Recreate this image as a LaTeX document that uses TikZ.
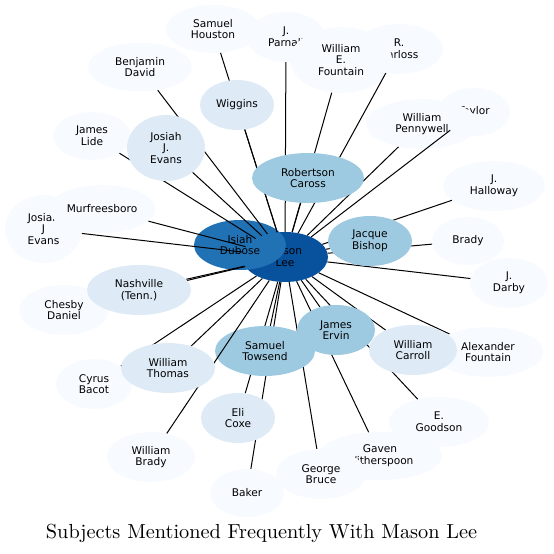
\documentclass[tikz,border=0pt]{standalone}
\usepackage{fontspec}
\newfontfamily\dejavu{DejaVu Sans}
\newfontfamily\titlefnt{lmroman10-regular.otf}
\usetikzlibrary{shapes.geometric}
\definecolor{bA}{HTML}{F7FBFF}
\definecolor{bB}{HTML}{DEEBF7}
\definecolor{bC}{HTML}{9ECAE1}
\definecolor{bD}{HTML}{2171B5}
\definecolor{bE}{HTML}{08519C}
\begin{document}
\begin{tikzpicture}[x=1pt,y=1pt,
  ent/.style={ellipse, inner sep=0pt, align=center, text=black,
    font=\dejavu\fontsize{10.6}{11.7}\selectfont},
  lk/.style={draw=black, line width=1pt},
  titlefont/.style={font=\titlefnt\fontsize{20.3}{24}\selectfont}
]
\useasboundingbox (0,0) rectangle (554,554);
% central nodes
\node[ent, fill=bE, minimum width=86pt, minimum height=50pt] (ml) at (285,297) {Mason\\Lee};
\node[ent, fill=bD, minimum width=92pt, minimum height=50pt] (idu) at (240,309) {Isiah\\Dubose};
% light nodes
\node[ent, fill=bA, minimum width=94pt, minimum height=48pt] (sh) at (213,525) {Samuel\\Houston};
\node[ent, fill=bA, minimum width=78pt, minimum height=50pt] (jp) at (286,517) {J.\\Parnall};
\node[ent, fill=bA, minimum width=88pt, minimum height=50pt] (rcl) at (399,505) {R.\\Carloss};
\node[ent, fill=bA, minimum width=102pt, minimum height=66pt] (wef) at (341,494) {William\\E.\\Fountain};
\node[ent, fill=bA, minimum width=104pt, minimum height=49pt] (bd) at (140,487) {Benjamin\\David};
\node[ent, fill=bA, minimum width=78pt, minimum height=48pt] (jl) at (92,418) {James\\Lide};
\node[ent, fill=bA, minimum width=72pt, minimum height=48pt] (tay) at (474,442) {Taylor};
\node[ent, fill=bA, minimum width=112pt, minimum height=50pt] (wp) at (422,430) {William\\Pennywell};
\node[ent, fill=bA, minimum width=102pt, minimum height=50pt] (jh) at (494,368) {J.\\Halloway};
\node[ent, fill=bA, minimum width=77pt, minimum height=68pt] (jje2) at (43.5,325) {Josiah\\J\\Evans};
\node[ent, fill=bA, minimum width=107pt, minimum height=48pt] (mur) at (102,345) {Murfreesboro};
\node[ent, fill=bA, minimum width=72pt, minimum height=48pt] (bra) at (468,313) {Brady};
\node[ent, fill=bA, minimum width=78pt, minimum height=50pt] (jd) at (509,271) {J.\\Darby};
\node[ent, fill=bA, minimum width=90pt, minimum height=50pt] (cd) at (64,244) {Chesby\\Daniel};
\node[ent, fill=bA, minimum width=110pt, minimum height=50pt] (af) at (488,202) {Alexander\\Fountain};
\node[ent, fill=bA, minimum width=76pt, minimum height=50pt] (cb) at (94,170) {Cyrus\\Bacot};
\node[ent, fill=bA, minimum width=100pt, minimum height=50pt] (eg) at (439,132) {E.\\Goodson};
\node[ent, fill=bA, minimum width=88pt, minimum height=50pt] (wb) at (151,97) {William\\Brady};
\node[ent, fill=bA, minimum width=124pt, minimum height=48pt] (gw) at (380,98) {Gaven\\Witherspoon};
\node[ent, fill=bA, minimum width=90pt, minimum height=50pt] (gb) at (321,80) {George\\Bruce};
\node[ent, fill=bA, minimum width=74pt, minimum height=48pt] (bak) at (247,61) {Baker};
% centres of the later nodes
\path (237,449) coordinate (wigc) (166,406) coordinate (jjec) (139,264) coordinate (nashc)
  (308,376) coordinate (robc) (370,313) coordinate (jbc) (265,203) coordinate (stc)
  (336,224) coordinate (jec) (413,204) coordinate (wcc) (238,136) coordinate (elic)
  (168,186) coordinate (wtc);
% edges to the nodes drawn so far
\foreach \t in {sh,jp,rcl,wef,bd,jl,tay,wp,jh,jje2,mur,bra,jd,cd,af,cb,eg,gw,gb,bak}
  \draw[lk] (ml) -- (\t);
% outlines of later nodes, for clipping their edges
\node[ent, minimum width=74pt, minimum height=50pt] (wig0) at (wigc) {};
\node[ent, minimum width=78pt, minimum height=66pt] (jje0) at (jjec) {};
\node[ent, minimum width=104pt, minimum height=50pt] (nash0) at (nashc) {};
\node[ent, minimum width=112pt, minimum height=50pt] (rob0) at (robc) {};
\node[ent, minimum width=84pt, minimum height=50pt] (jb0) at (jbc) {};
\node[ent, minimum width=100pt, minimum height=50pt] (st0) at (stc) {};
\node[ent, minimum width=78pt, minimum height=50pt] (je0) at (jec) {};
\node[ent, minimum width=88pt, minimum height=50pt] (wc0) at (wcc) {};
\node[ent, minimum width=74pt, minimum height=50pt] (eli0) at (elic) {};
\node[ent, minimum width=94pt, minimum height=50pt] (wt0) at (wtc) {};
\foreach \t in {wig0,jje0,nash0,rob0,jb0,st0,je0,wc0,eli0,wt0}
  \draw[lk] (ml) -- (\t);
% medium nodes
\node[ent, fill=bB, minimum width=74pt, minimum height=50pt] (wig) at (wigc) {Wiggins};
\node[ent, fill=bB, minimum width=78pt, minimum height=66pt] (jje) at (jjec) {Josiah\\J.\\Evans};
\node[ent, fill=bB, minimum width=104pt, minimum height=50pt] (nash) at (nashc) {Nashville\\(Tenn.)};
\node[ent, fill=bC, minimum width=112pt, minimum height=50pt] (rob) at (robc) {Robertson\\Caross};
\node[ent, fill=bC, minimum width=84pt, minimum height=50pt] (jb) at (jbc) {Jacque\\Bishop};
\node[ent, fill=bC, minimum width=100pt, minimum height=50pt] (st) at (stc) {Samuel\\Towsend};
\node[ent, fill=bC, minimum width=78pt, minimum height=50pt] (je) at (jec) {James\\Ervin};
\node[ent, fill=bB, minimum width=88pt, minimum height=50pt] (wc) at (wcc) {William\\Carroll};
\node[ent, fill=bB, minimum width=74pt, minimum height=50pt] (eli) at (elic) {Eli\\Coxe};
% edge over Samuel Towsend, under William Thomas
\draw[lk] (ml) -- (wb);
\node[ent, fill=bB, minimum width=94pt, minimum height=50pt] (wt) at (wtc) {William\\Thomas};
% title
\node[titlefont, anchor=base, inner sep=0pt] (title) at (261.5,15) {Subjects Mentioned Frequently With Mason Lee};
\end{tikzpicture}
\end{document}
